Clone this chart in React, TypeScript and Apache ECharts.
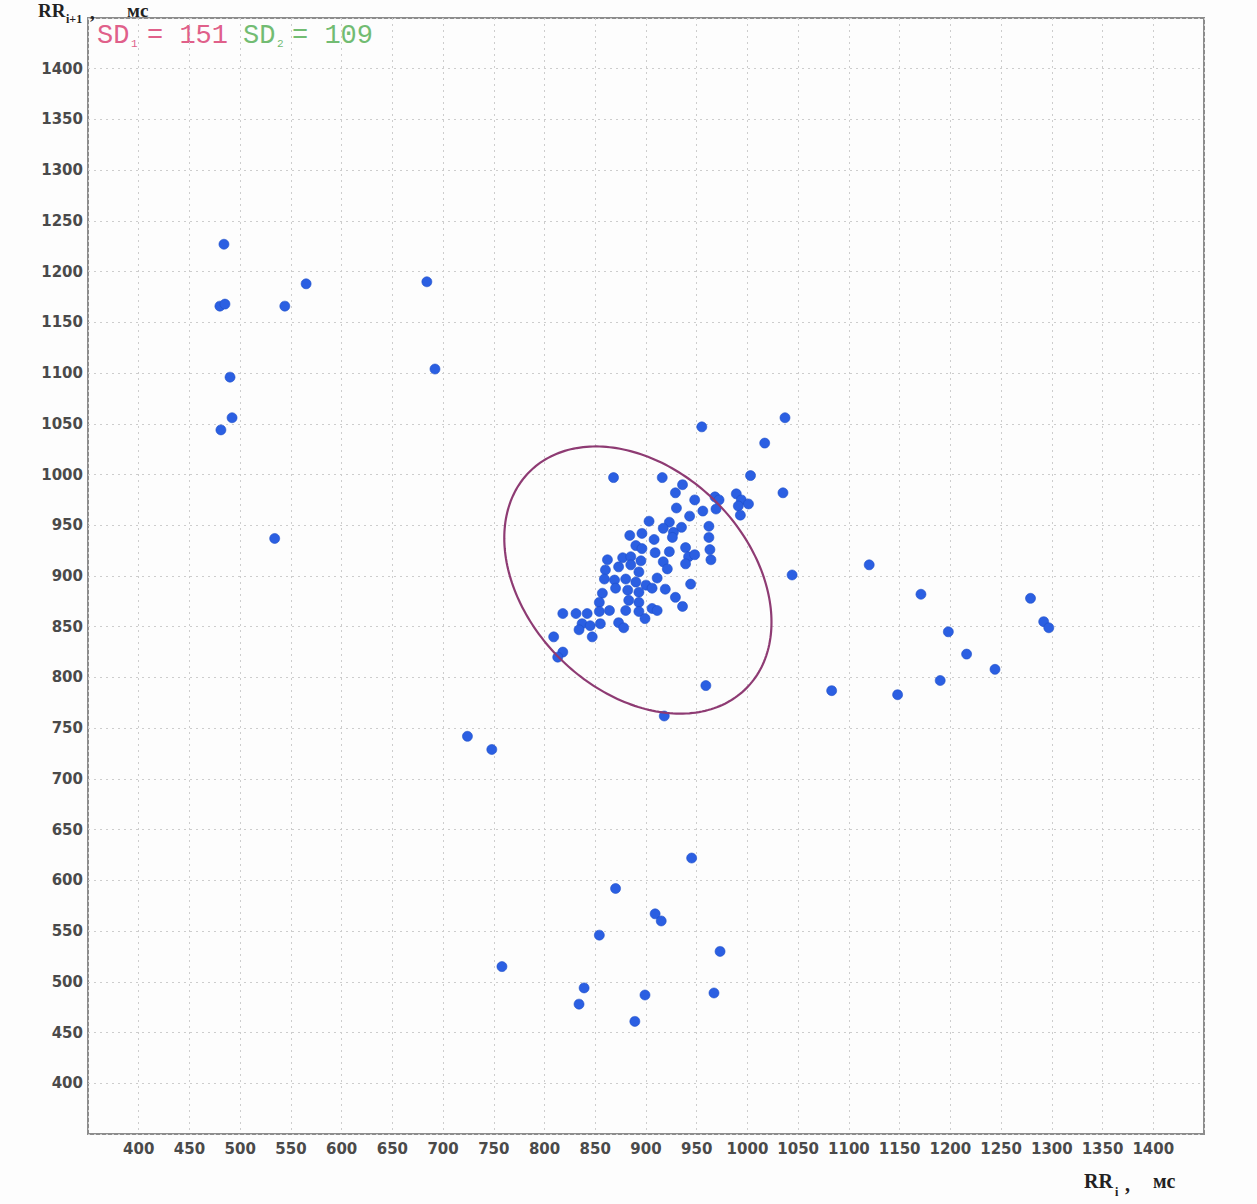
import React, { useEffect, useRef } from "react";
import * as echarts from "echarts";

// RR_i (ms) of each point
const rrI = [
  484, 480, 485, 544, 565, 684, 692, 490, 492, 481, 534,
  955, 1037, 1017, 1003, 1035, 1044, 1120, 1171, 1198, 1216, 1190, 1244, 1279, 1292, 1297, 1083, 1148, 959, 918,
  724, 748, 945, 870, 909, 915, 854, 973, 758, 839, 834, 899, 967, 889,
  868, 916, 936, 929, 948, 930, 968, 972, 969, 989, 994, 1001, 991, 993, 943, 956, 903, 923, 935, 917, 927, 962,
  962, 963, 964, 884, 896, 908, 926, 890, 896, 909, 923, 939, 942, 948, 862, 877, 885, 895, 917,
  939, 860, 873, 885, 893, 921, 859, 869, 880, 890, 900, 911, 944, 870, 882, 893, 906, 919, 857, 883, 854, 893,
  906, 911, 929, 936, 818, 831, 842, 854, 864, 880, 893, 899, 837, 845, 855, 873, 878, 834, 847, 809, 818, 813,
];
// RR_{i+1} (ms) of each point
const rrNext = [
  1227, 1166, 1168, 1166, 1188, 1190, 1104, 1096, 1056, 1044, 937,
  1047, 1056, 1031, 999, 982, 901, 911, 882, 845, 823, 797, 808, 878, 855, 849, 787, 783, 792, 762,
  742, 729, 622, 592, 567, 560, 546, 530, 515, 494, 478, 487, 489, 461,
  997, 997, 990, 982, 975, 967, 978, 975, 966, 981, 975, 971, 969, 960, 959, 964, 954, 953, 948, 947, 943, 949,
  938, 926, 916, 940, 942, 936, 938, 930, 927, 923, 924, 928, 919, 921, 916, 918, 919, 915, 914,
  912, 906, 909, 911, 904, 907, 897, 896, 897, 894, 891, 898, 892, 888, 886, 884, 888, 887, 883, 876, 874, 874,
  868, 866, 879, 870, 863, 863, 863, 865, 866, 866, 865, 858, 853, 851, 853, 854, 849, 847, 840, 840, 825, 820,
];

const SD1 = 151;
const SD2 = 109;
const centerRRi = 892;
const centerRRnext = 896;

const axisMin = 350;
const axisMax = 1450;
const axisStep = 50;

export default function App() {
  const ref = useRef<HTMLDivElement>(null);

  useEffect(() => {
    const chart = echarts.init(ref.current!, null, { renderer: "svg" });
    const points = rrI.map((x, i) => [x, rrNext[i]]);

    const labelStyle = {
      fontFamily: "DejaVu Sans",
      fontWeight: "bold" as const,
      fontSize: 15,
      color: "#4a4a4a",
      formatter: (v: number) => String(v),
    };
    const splitStyle = { color: "#cdcdcd", type: [2, 4] as number[], width: 1 };

    const titleFont = "Liberation Serif";
    const monoFont = "Liberation Mono";
    const pink = "#e0608a";
    const green = "#72bc72";

    chart.setOption({
      animation: false,
      backgroundColor: "#fdfdfd",
      grid: {
        show: true,
        left: 88,
        right: 53,
        top: 18,
        bottom: 70,
        borderColor: "#8c8c8c",
        borderWidth: 2,
        backgroundColor: "#fdfdfd",
      },
      xAxis: {
        type: "value",
        min: axisMin,
        max: axisMax,
        interval: axisStep,
        axisLine: { show: false },
        axisTick: { show: false },
        splitLine: { show: true, lineStyle: splitStyle },
        axisLabel: { ...labelStyle, margin: 7, showMinLabel: false, showMaxLabel: false },
      },
      yAxis: {
        type: "value",
        min: axisMin,
        max: axisMax,
        interval: axisStep,
        axisLine: { show: false },
        axisTick: { show: false },
        splitLine: { show: true, lineStyle: splitStyle },
        axisLabel: { ...labelStyle, margin: 5, showMinLabel: false, showMaxLabel: false },
      },
      series: [
        {
          type: "scatter",
          data: points,
          symbol: "circle",
          symbolSize: 10,
          z: 2,
          itemStyle: { color: "#2b5fe2", borderColor: "#1f4fc8", borderWidth: 0.6, opacity: 1 },
        },
        {
          type: "custom",
          z: 3,
          silent: true,
          data: [[centerRRi, centerRRnext, SD1, SD2]],
          renderItem: (params: any, api: any) => {
            const cx = api.value(0);
            const cy = api.value(1);
            const a = api.value(2); // across the identity line
            const b = api.value(3); // along the identity line
            const r = Math.SQRT1_2;
            const pts: number[][] = [];
            const n = 240;
            for (let k = 0; k <= n; k++) {
              const t = (k / n) * Math.PI * 2;
              const u = b * Math.cos(t);
              const v = a * Math.sin(t);
              const x = cx + r * u - r * v;
              const y = cy + r * u + r * v;
              pts.push(api.coord([x, y]));
            }
            return {
              type: "polyline",
              shape: { points: pts },
              style: { fill: "none", stroke: "#8e3b73", lineWidth: 2.2 },
            };
          },
        },
      ],
      graphic: [
        // Y axis title: RR_{i+1}, мс
        {
          type: "text",
          x: 38,
          y: 10,
          style: { text: "RR", font: `bold 19px "${titleFont}"`, fill: "#222", verticalAlign: "middle" },
        },
        {
          type: "text",
          x: 66,
          y: 19,
          style: { text: "i+1", font: `bold 12px "${titleFont}"`, fill: "#222", verticalAlign: "middle" },
        },
        {
          type: "text",
          x: 90,
          y: 12,
          style: { text: ",", font: `bold 19px "${titleFont}"`, fill: "#222", verticalAlign: "middle" },
        },
        {
          type: "text",
          x: 127,
          y: 10,
          style: { text: "мс", font: `bold 19px "${titleFont}"`, fill: "#222", verticalAlign: "middle" },
        },
        // X axis title: RR_i, мс
        {
          type: "text",
          x: 1084,
          y: 1181,
          style: { text: "RR", font: `bold 20px "${titleFont}"`, fill: "#222", verticalAlign: "middle" },
        },
        {
          type: "text",
          x: 1115,
          y: 1192,
          style: { text: "i", font: `bold 12px "${titleFont}"`, fill: "#222", verticalAlign: "middle" },
        },
        {
          type: "text",
          x: 1125,
          y: 1184,
          style: { text: ",", font: `bold 20px "${titleFont}"`, fill: "#222", verticalAlign: "middle" },
        },
        {
          type: "text",
          x: 1153,
          y: 1181,
          style: { text: "мс", font: `bold 20px "${titleFont}"`, fill: "#222", verticalAlign: "middle" },
        },
        // SD labels
        {
          type: "text",
          x: 97,
          y: 36,
          style: { text: "SD", font: `27px "${monoFont}"`, fill: pink, verticalAlign: "middle" },
        },
        {
          type: "text",
          x: 131,
          y: 44,
          style: { text: "1", font: `11px "${monoFont}"`, fill: pink, verticalAlign: "middle" },
        },
        {
          type: "text",
          x: 147,
          y: 36,
          style: { text: `= ${SD1}`, font: `27px "${monoFont}"`, fill: pink, verticalAlign: "middle" },
        },
        {
          type: "text",
          x: 243,
          y: 36,
          style: { text: "SD", font: `27px "${monoFont}"`, fill: green, verticalAlign: "middle" },
        },
        {
          type: "text",
          x: 277,
          y: 44,
          style: { text: "2", font: `11px "${monoFont}"`, fill: green, verticalAlign: "middle" },
        },
        {
          type: "text",
          x: 292,
          y: 36,
          style: { text: `= ${SD2}`, font: `27px "${monoFont}"`, fill: green, verticalAlign: "middle" },
        },
      ],
    });

    return () => chart.dispose();
  }, []);

  return (
    <div
      ref={ref}
      style={{ position: "absolute", left: 0, top: 0, width: 1257, height: 1204 }}
    />
  );
}
